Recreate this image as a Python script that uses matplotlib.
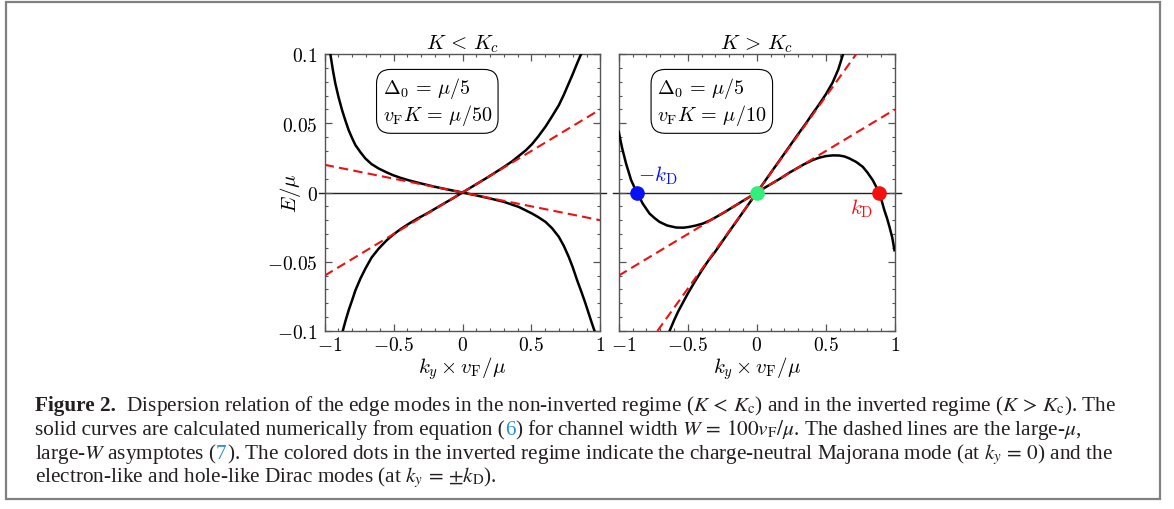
import matplotlib
matplotlib.use("Agg")
import matplotlib.pyplot as plt
from matplotlib.patches import Rectangle
from matplotlib.ticker import MultipleLocator
from matplotlib.transforms import IdentityTransform, ScaledTranslation

plt.rcParams["mathtext.fontset"] = "cm"

# ── Data ──────────────────────────────────────────────────────────────────────

# left panel (K < Kc): two solid branches
left_a_k = [-0.869, -0.85, -0.826, -0.80, -0.777, -0.74, -0.705, -0.66, -0.608,
            -0.55, -0.504, -0.45, -0.39, -0.33, -0.25, -0.17, -0.08, 0.0, 0.08,
            0.17, 0.25, 0.30, 0.36, 0.41, 0.46, 0.505, 0.55, 0.602, 0.65, 0.699,
            0.735, 0.771, 0.80, 0.832, 0.863]
left_a_e = [-0.100, -0.093, -0.085, -0.0775, -0.0706, -0.062, -0.055, -0.047,
            -0.0405, -0.0345, -0.0305, -0.0265, -0.0226, -0.0190, -0.0147,
            -0.0100, -0.0048, 0.0, 0.0048, 0.0102, 0.0152, 0.0184, 0.0225, 0.0265,
            0.0305, 0.0350, 0.0405, 0.0475, 0.055, 0.0630, 0.0705, 0.0788, 0.0855,
            0.0933, 0.1005]

left_b_k = [-0.959, -0.94, -0.923, -0.90, -0.874, -0.85, -0.826, -0.80, -0.777,
            -0.74, -0.705, -0.66, -0.608, -0.55, -0.504, -0.45, -0.39, -0.30,
            -0.20, -0.10, 0.0, 0.10, 0.20, 0.299, 0.408, 0.505, 0.55, 0.602, 0.65,
            0.699, 0.735, 0.771, 0.80, 0.832, 0.862, 0.892, 0.918, 0.940, 0.960]
left_b_e = [0.100, 0.088, 0.0788, 0.069, 0.0595, 0.052, 0.045, 0.039, 0.0342,
            0.029, 0.0246, 0.0205, 0.0173, 0.0145, 0.0125, 0.0106, 0.0088, 0.0065,
            0.0041, 0.0020, 0.0, -0.0021, -0.0043, -0.0067, -0.0104, -0.0152,
            -0.0178, -0.0212, -0.0258, -0.0320, -0.0385, -0.0465, -0.0540, -0.0634,
            -0.0715, -0.0800, -0.0880, -0.0947, -0.1005]

# left panel asymptotes (dashed)
left_asym_k = [[-1.0, 1.0], [-1.0, 1.0]]
left_asym_e = [[-0.06, 0.06], [0.02, -0.02]]

# right panel (K > Kc): steep branch and cubic-like branch
right_a_k = [-0.632, -0.60, -0.57, -0.535, -0.50, -0.45, -0.40, -0.35, -0.30,
             -0.20, -0.10, 0.0, 0.10, 0.20, 0.30, 0.356, 0.40, 0.45, 0.50, 0.549,
             0.59, 0.626]
right_a_e = [-0.100, -0.0925, -0.0860, -0.0795, -0.0730, -0.0645, -0.0565,
             -0.0490, -0.0425, -0.0282, -0.0141, 0.0, 0.0141, 0.0282, 0.0423,
             0.0500, 0.0565, 0.0635, 0.0710, 0.0795, 0.0890, 0.1005]

right_b_k = [-1.0, -0.975, -0.947, -0.91, -0.869, -0.826, -0.777, -0.74, -0.705,
             -0.65, -0.584, -0.53, -0.487, -0.44, -0.39, -0.34, -0.293, -0.23,
             -0.172, -0.10, 0.0, 0.10, 0.17, 0.23, 0.284, 0.34, 0.404, 0.45, 0.50,
             0.55, 0.597, 0.635, 0.67, 0.72, 0.766, 0.80, 0.839, 0.862, 0.882,
             0.905, 0.923, 0.942, 0.96, 0.98, 0.996]
right_b_e = [0.0439, 0.032, 0.021, 0.0089, 0.0, -0.0080, -0.0152, -0.0185,
             -0.0212, -0.0238, -0.0253, -0.0254, -0.0248, -0.0238, -0.0224,
             -0.0202, -0.0176, -0.0140, -0.0104, -0.0060, 0.0, 0.0060, 0.0101,
             0.0140, 0.0171, 0.0203, 0.0234, 0.0251, 0.0263, 0.0268, 0.0267,
             0.0260, 0.0246, 0.0220, 0.0186, 0.0145, 0.0089, 0.0045, 0.0, -0.0065,
             -0.0128, -0.0185, -0.0248, -0.0325, -0.0417]

right_asym_k = [[-0.72, 0.72], [-1.0, 1.0]]
right_asym_e = [[-0.1, 0.1], [-0.06, 0.06]]

# colored dots: -kD (hole-like), Majorana (0), kD (electron-like)
dot_k = [-0.869, 0.0, 0.882]
dot_colors = ["#0a10f5", "#2ef07a", "#f51010"]

titles = [r"$K\,<\,K_c$", r"$K\,>\,K_c$"]
box_texts = [r"$\Delta_0\,=\,\mu/5$" + "\n" + r"$v_{\rm F}K\,=\,\mu/50$",
             r"$\Delta_0\,=\,\mu/5$" + "\n" + r"$v_{\rm F}K\,=\,\mu/10$"]

xticks = [-1, -0.5, 0, 0.5, 1]
xtick_labels = [r"$-1$", r"$-0.5$", r"$0$", r"$0.5$", r"$1$"]
yticks = [-0.1, -0.05, 0, 0.05, 0.1]
ytick_labels = [r"$-0.1$", r"$-0.05$", r"$0$", r"$0.05$", r"$0.1$"]

CAPTION_BLUE = "#2b8fd6"
CAPTION_INK = "#231f20"
caption_lines = [
    [("Figure 2.", CAPTION_INK, "bold"),
     ("  Dispersion relation of the edge modes in the non-inverted regime "
      r"($K\,<\,K_{\rm c}$) and in the inverted regime ($K\,>\,K_{\rm c}$). The",
      CAPTION_INK, "normal")],
    [("solid curves are calculated numerically from equation (", CAPTION_INK, "normal"),
     ("6", CAPTION_BLUE, "normal"),
     (r") for channel width $W\,=\,100v_{\rm F}/\mu$. The dashed lines are the large-$\mu$,",
      CAPTION_INK, "normal")],
    [("large-$W$ asymptotes (", CAPTION_INK, "normal"),
     ("7", CAPTION_BLUE, "normal"),
     ("). The colored dots in the inverted regime indicate the charge-neutral "
      r"Majorana mode (at $k_y\,=\,0$) and the", CAPTION_INK, "normal")],
    [(r"electron-like and hole-like Dirac modes (at $k_y\,=\,{\pm}k_{\rm D}$).",
      CAPTION_INK, "normal")],
]

# ── Figure ────────────────────────────────────────────────────────────────────

W, H = 1174, 510
fig = plt.figure(figsize=(W / 100, H / 100), dpi=100)

frame = Rectangle((6 / W, 1 - 500 / H), 1154 / W, 497 / H, transform=fig.transFigure,
                  fill=False, edgecolor="#808080", linewidth=1.6)
fig.patches.append(frame)

ax1 = fig.add_axes([324.7 / W, 1 - 332 / H, 275.6 / W, 277 / H])
ax2 = fig.add_axes([618.7 / W, 1 - 332 / H, 276.3 / W, 277 / H])


def style_axes(ax, show_ylabels):
    ax.set_xlim(-1, 1)
    ax.set_ylim(-0.1, 0.1)
    ax.set_xticks(xticks)
    ax.set_xticklabels(xtick_labels)
    ax.set_yticks(yticks)
    ax.set_yticklabels(ytick_labels if show_ylabels else [])
    ax.xaxis.set_minor_locator(MultipleLocator(0.1))
    ax.yaxis.set_minor_locator(MultipleLocator(0.01))
    ax.tick_params(which="both", direction="in", top=True, right=True,
                   color="#555555", labelsize=14)
    ax.tick_params(axis="x", pad=3)
    ax.tick_params(axis="y", pad=5)
    ax.tick_params(which="major", length=5, width=0.9)
    ax.tick_params(which="minor", length=2.5, width=0.8)
    for sp in ax.spines.values():
        sp.set_color("#555555")
        sp.set_linewidth(1.0)
    # the "-1" label sits a little to the right of its tick, as in the original
    first = ax.get_xticklabels()[0]
    first.set_transform(first.get_transform()
                        + ScaledTranslation(5 / 100, 0, fig.dpi_scale_trans))


panels = [
    (ax1, [(left_a_k, left_a_e), (left_b_k, left_b_e)], left_asym_k, left_asym_e),
    (ax2, [(right_a_k, right_a_e), (right_b_k, right_b_e)], right_asym_k, right_asym_e),
]

for i, (ax, curves, ak, ae) in enumerate(panels):
    style_axes(ax, i == 0)
    ax.axhline(0, xmin=-0.02, xmax=1.02, color="#222222", linewidth=1.0,
               clip_on=False, zorder=1)
    for k, e in curves:
        ax.plot(k, e, color="black", linewidth=1.8, zorder=3)
    for k, e in zip(ak, ae):
        ax.plot(k, e, color="#ee1111", linewidth=1.5, linestyle=(0, (4.5, 2.5)),
                zorder=4)
    ax.set_title(titles[i], fontsize=15, pad=4)
    ax.set_xlabel(r"$k_y \times v_{\rm F}/\mu$", fontsize=15)
    ax.xaxis.set_label_coords(0.5, -0.085)
    ax.text(0.21 if i == 0 else 0.139, 0.829, box_texts[i], transform=ax.transAxes,
            fontsize=14.5, ha="left", va="center", linespacing=1.1,
            bbox=dict(boxstyle="round,pad=0.3,rounding_size=0.7", facecolor="white",
                      edgecolor="black", linewidth=0.8), zorder=5)

ax1.set_ylabel(r"$E/\mu$", fontsize=15)
ax1.yaxis.set_label_coords(-0.08, 0.5)

for k, c in zip(dot_k, dot_colors):
    ax2.plot(k, 0, "o", color=c, markersize=9.5, zorder=6, clip_on=False)
ax2.text(-0.716, 0.0125, r"$-k_{\rm D}$", color=dot_colors[0], fontsize=15,
         ha="center", va="center")
ax2.text(0.76, -0.0113, r"$k_{\rm D}$", color=dot_colors[2], fontsize=15,
         ha="center", va="center")

# ── Caption ───────────────────────────────────────────────────────────────────

renderer = fig.canvas.get_renderer()
cap_kw = dict(fontsize=15.3, family="Liberation Serif", math_fontfamily="stix",
              transform=IdentityTransform())


def text_width(s, weight):
    t = fig.text(0, 0, s, fontweight=weight, **cap_kw)
    w = t.get_window_extent(renderer).width
    t.remove()
    return w


def advance(s, weight):
    return text_width("|" + s + "|", weight) - text_width("||", weight)


baselines = [411, 435, 459, 482]
for parts, yb in zip(caption_lines, baselines):
    x = 35
    for s, color, weight in parts:
        fig.text(x, H - yb, s, color=color, fontweight=weight, va="baseline",
                 **cap_kw)
        x += advance(s, weight)

fig.savefig("out.png", dpi=100)
